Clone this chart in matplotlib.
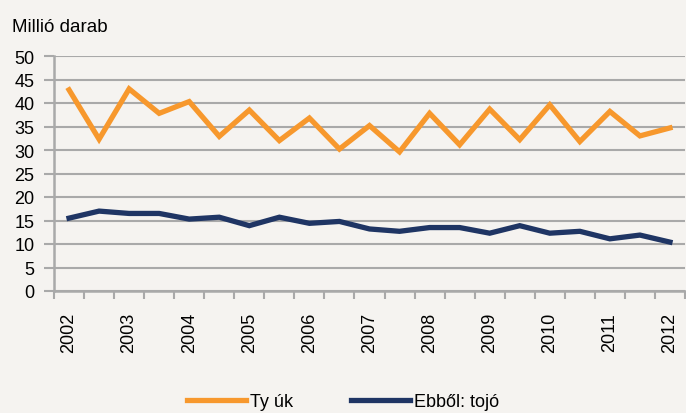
import matplotlib.pyplot as plt

# ---- Data (semiannual, 2002-2012) ----
years = ["2002", "2003", "2004", "2005", "2006", "2007",
         "2008", "2009", "2010", "2011", "2012"]
tyuk = [42.8, 32.3, 43.0, 37.8, 40.3, 32.9, 38.5, 32.0, 36.8, 30.2, 35.2,
        29.6, 37.8, 31.1, 38.7, 32.2, 39.6, 31.8, 38.2, 33.0, 34.7]
tojo = [15.5, 17.0, 16.5, 16.5, 15.3, 15.7, 13.9, 15.7, 14.4, 14.8, 13.2,
        12.7, 13.5, 13.5, 12.3, 13.9, 12.3, 12.7, 11.1, 11.9, 10.4]

plt.rcParams["font.family"] = ["Liberation Sans", "DejaVu Sans"]

bg = "#F5F3F0"
grid_col = "#A9A9A9"

fig = plt.figure(figsize=(6.86, 4.14), dpi=100, facecolor=bg)
ax = fig.add_axes([54 / 686, 1 - 292 / 414, 631 / 686, 235 / 414])
ax.set_facecolor(bg)

x = list(range(len(tyuk)))
ax.plot(x, tyuk, color="#F7982D", lw=3.8, label="Ty úk", solid_joinstyle="miter")
ax.plot(x, tojo, color="#1F3564", lw=3.8, label="Ebből: tojó", solid_joinstyle="miter")

ax.set_xlim(-0.5, len(tyuk) - 0.5)
ax.set_ylim(0, 50)
ax.set_yticks(range(0, 51, 5))
ax.yaxis.grid(True, color=grid_col, lw=1.5)
ax.set_axisbelow(True)

# boundary ticks (major, no labels) and year labels (minor, no tick marks)
ax.set_xticks([i - 0.5 for i in range(len(tyuk) + 1)])
ax.set_xticklabels([])
ax.set_xticks(list(range(0, len(tyuk), 2)), minor=True)
ax.set_xticklabels(years, minor=True, rotation=90, fontsize=13)
ax.tick_params(axis="x", which="major", length=6, width=1.5, color=grid_col)
ax.tick_params(axis="x", which="minor", length=0, pad=15)
ax.tick_params(axis="y", length=7, width=1.5, color=grid_col, labelsize=13, pad=7)

for s in ["top", "right"]:
    ax.spines[s].set_visible(False)
for s in ["left", "bottom"]:
    ax.spines[s].set_color(grid_col)
    ax.spines[s].set_linewidth(1.8)

fig.text(12 / 686, 1 - 32 / 414, "Millió darab", fontsize=13.5, va="baseline")

fig.legend(loc="center", bbox_to_anchor=(0.5, 1 - 403 / 414), ncol=2,
           frameon=False, fontsize=13, handlelength=3.3, handletextpad=0.2,
           columnspacing=3.2)

fig.savefig("out.png", dpi=100, facecolor=bg)
